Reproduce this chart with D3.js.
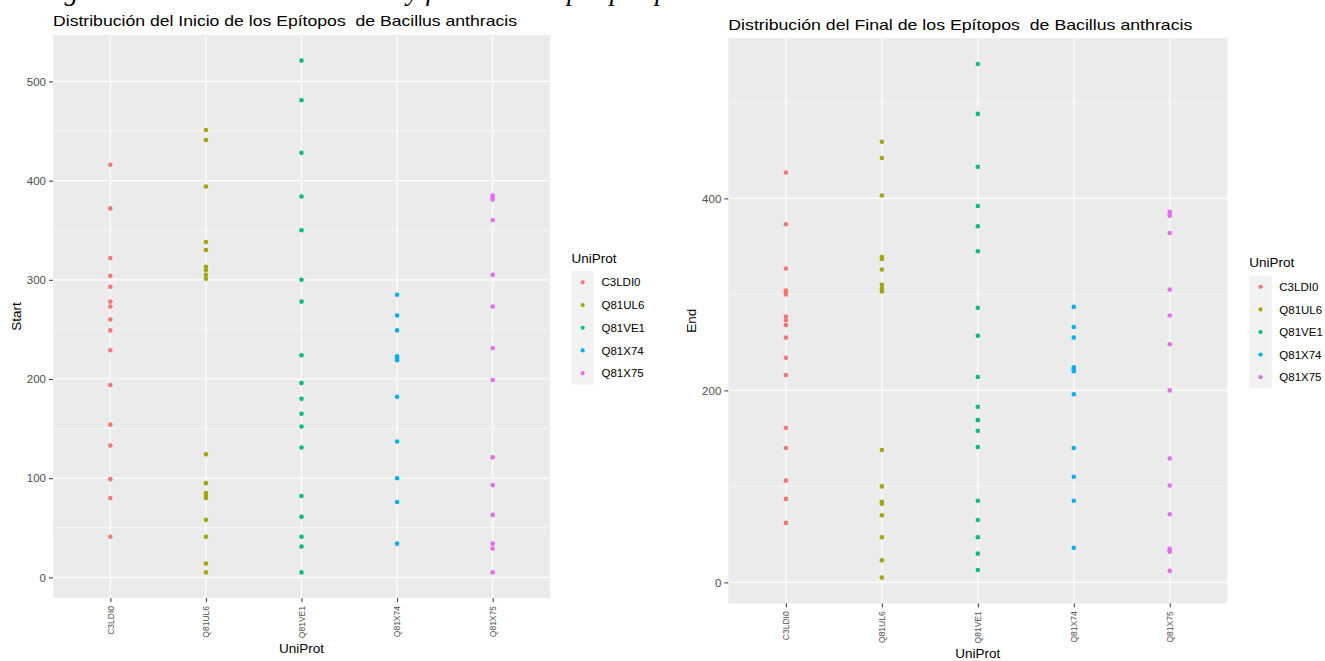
<!DOCTYPE html>
<html>
<head>
<meta charset="utf-8">
<script src="https://cdn.jsdelivr.net/npm/d3@7"></script>
<style>
  html, body { margin: 0; padding: 0; background: #fff; }
  svg { display: block; font-family: "Liberation Sans", Arial, sans-serif; }
  text { white-space: pre; }
</style>
</head>
<body>
<svg id="chart" width="1325" height="661"></svg>
<script>
// Protein identifiers (x categories and legend entries)
const categories = ["C3LDI0", "Q81UL6", "Q81VE1", "Q81X74", "Q81X75"];
const colors = ["#F8766D", "#A3A500", "#00BF7D", "#00B0F6", "#E76BF3"];

// Epitope start positions per protein
const startC3LDI0 = [416, 372, 322, 304, 293, 278, 273, 260, 249, 229, 194, 154, 133, 99, 80, 41];
const startQ81UL6 = [451, 441, 394, 338, 330, 313, 310, 305, 301, 124, 95, 85, 82, 80, 58, 41, 14, 5];
const startQ81VE1 = [521, 481, 428, 384, 350, 300, 278, 224, 196, 180, 165, 152, 131, 82, 61, 41, 31, 5];
const startQ81X74 = [285, 264, 249, 223, 221, 219, 182, 137, 100, 76, 34];
const startQ81X75 = [385, 383, 381, 360, 305, 273, 231, 199, 121, 93, 63, 34, 29, 5];

// Epitope end positions per protein
const endC3LDI0 = [427, 373, 327, 304, 302, 300, 277, 273, 268, 255, 234, 216, 161, 140, 106, 87, 62];
const endQ81UL6 = [459, 442, 403, 339, 337, 326, 310, 306, 303, 138, 100, 84, 82, 70, 47, 23, 5];
const endQ81VE1 = [540, 488, 433, 392, 371, 345, 286, 257, 214, 183, 169, 158, 141, 85, 65, 47, 30, 13];
const endQ81X74 = [287, 266, 255, 224, 222, 220, 196, 140, 110, 85, 36];
const endQ81X75 = [386, 383, 382, 364, 305, 278, 248, 200, 129, 101, 71, 35, 33, 32, 12];

// Axis ticks
const startTicks = [0, 100, 200, 300, 400, 500];
const startMinor = [50, 150, 250, 350, 450];
const endTicks = [0, 200, 400];
const endMinor = [100, 300, 500];

const titleStart = "Distribución del Inicio de los Epítopos  de Bacillus anthracis";
const titleEnd = "Distribución del Final de los Epítopos  de Bacillus anthracis";
const caption = "Figura 4. Distribución del inicio y final de los epítopos por UniProt";

const svg = d3.select("#chart");

// Document caption line, sitting at the very top edge of the page
svg.append("text")
  .attr("x", 40).attr("y", 0)
  .attr("font-family", '"Liberation Serif", "Times New Roman", serif')
  .attr("font-style", "italic")
  .attr("font-size", 27.5).attr("fill", "#000")
  .text(caption);

function toPoints(seriesList) {
  const pts = [];
  seriesList.forEach((vals, i) => vals.forEach(v => pts.push({ cat: categories[i], value: v, color: colors[i] })));
  return pts;
}

// Fit a text element to a given width by stretching glyphs horizontally
function fitWidth(sel, w) {
  sel.attr("textLength", w).attr("lengthAdjust", "spacingAndGlyphs");
}

function drawPanel(cfg) {
  const g = svg.append("g");
  const { left, right, top, bottom } = cfg;
  const pts = toPoints(cfg.series);
  const ext = d3.extent(pts, d => d.value);
  const pad = (ext[1] - ext[0]) * 0.05;

  const x = d3.scalePoint().domain(categories).range([left, right]).padding(0.6);
  const y = d3.scaleLinear().domain([ext[0] - pad, ext[1] + pad]).range([bottom, top]);

  // Panel background
  g.append("rect")
    .attr("x", left).attr("y", top)
    .attr("width", right - left).attr("height", bottom - top)
    .attr("fill", "#EBEBEB");

  // Minor horizontal grid
  g.selectAll(".minor").data(cfg.minor).join("line")
    .attr("x1", left).attr("x2", right)
    .attr("y1", d => y(d)).attr("y2", d => y(d))
    .attr("stroke", "#FFFFFF").attr("stroke-width", 0.6);

  // Major horizontal grid
  g.selectAll(".majorY").data(cfg.ticks).join("line")
    .attr("x1", left).attr("x2", right)
    .attr("y1", d => y(d)).attr("y2", d => y(d))
    .attr("stroke", "#FFFFFF").attr("stroke-width", 1.2);

  // Major vertical grid
  g.selectAll(".majorX").data(categories).join("line")
    .attr("x1", d => x(d)).attr("x2", d => x(d))
    .attr("y1", top).attr("y2", bottom)
    .attr("stroke", "#FFFFFF").attr("stroke-width", 1.2);

  // Y axis
  const yAxis = d3.axisLeft(y).tickValues(cfg.ticks).tickSize(4).tickPadding(3);
  const ya = g.append("g").attr("transform", `translate(${left},0)`).call(yAxis);
  ya.select(".domain").remove();
  ya.selectAll(".tick line").attr("stroke", "#333333").attr("stroke-width", 1);
  ya.selectAll(".tick text")
    .attr("fill", "#4D4D4D").style("font-size", "11.5px")
    .style("font-family", '"Liberation Sans", Arial, sans-serif');

  // X axis with vertical labels
  const xAxis = d3.axisBottom(x).tickSize(4).tickPadding(3);
  const xa = g.append("g").attr("transform", `translate(0,${bottom})`).call(xAxis);
  xa.select(".domain").remove();
  xa.selectAll(".tick line").attr("stroke", "#333333").attr("stroke-width", 1);
  xa.selectAll(".tick text")
    .attr("fill", "#4D4D4D").style("font-size", "8.5px")
    .style("font-family", '"Liberation Sans", Arial, sans-serif')
    .attr("transform", "rotate(-90)")
    .attr("text-anchor", "end")
    .attr("x", -8).attr("y", 0).attr("dy", "0.32em");

  // Points
  g.selectAll(".pt").data(pts).join("circle")
    .attr("cx", d => x(d.cat)).attr("cy", d => y(d.value))
    .attr("r", 2.3).attr("fill", d => d.color);

  // Title
  const t = g.append("text")
    .attr("x", left).attr("y", cfg.titleY)
    .attr("font-size", 15).attr("fill", "#000")
    .text(cfg.title);
  fitWidth(t, cfg.titleW);

  // Axis titles
  g.append("text")
    .attr("transform", `translate(${cfg.yTitleX},${(top + bottom) / 2}) rotate(-90)`)
    .attr("text-anchor", "middle").attr("font-size", 13.5).attr("fill", "#000")
    .text(cfg.yTitle);
  g.append("text")
    .attr("x", (left + right) / 2).attr("y", cfg.xTitleY)
    .attr("text-anchor", "middle").attr("font-size", 13.5).attr("fill", "#000")
    .text("UniProt");

  // Legend
  const L = cfg.legend;
  g.append("text").attr("x", L.x).attr("y", L.titleY)
    .attr("font-size", 13.5).attr("fill", "#000").text("UniProt");
  g.append("rect").attr("x", L.x).attr("y", L.boxTop)
    .attr("width", 22.5).attr("height", L.step * categories.length)
    .attr("fill", "#F2F2F2");
  const items = g.selectAll(".leg").data(categories).join("g")
    .attr("transform", (d, i) => `translate(${L.x},${L.boxTop + L.step * (i + 0.5)})`);
  items.append("circle").attr("cx", 11.2).attr("cy", 0).attr("r", 2.1)
    .attr("fill", (d, i) => colors[i]);
  items.append("text").attr("x", 30).attr("dy", "0.36em")
    .attr("font-size", 11.5).attr("fill", "#000").text(d => d);
}

drawPanel({
  left: 53, right: 550, top: 35, bottom: 598,
  series: [startC3LDI0, startQ81UL6, startQ81VE1, startQ81X74, startQ81X75],
  ticks: startTicks, minor: startMinor,
  title: titleStart, titleY: 26, titleW: 464,
  yTitle: "Start", yTitleX: 21, xTitleY: 653,
  legend: { x: 571.5, titleY: 263, boxTop: 271, step: 22.7 }
});

drawPanel({
  left: 728.3, right: 1227.3, top: 38.3, bottom: 603.3,
  series: [endC3LDI0, endQ81UL6, endQ81VE1, endQ81X74, endQ81X75],
  ticks: endTicks, minor: endMinor,
  title: titleEnd, titleY: 29.5, titleW: 464,
  yTitle: "End", yTitleX: 696, xTitleY: 658,
  legend: { x: 1249.3, titleY: 267, boxTop: 275.5, step: 22.6 }
});
</script>
</body>
</html>
